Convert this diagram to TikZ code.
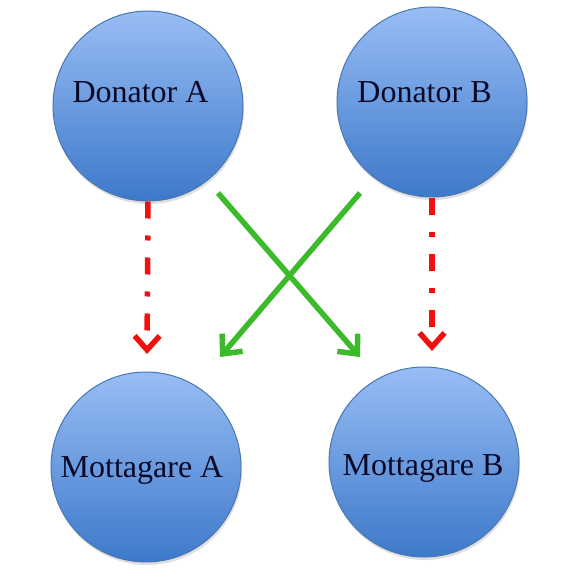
\documentclass[tikz,border=0pt]{standalone}
\usepackage{fontspec}
\setmainfont{Liberation Serif}
\usetikzlibrary{shapes,arrows.meta,shadows}
\definecolor{balltop}{HTML}{98BDF5}
\definecolor{ballbot}{HTML}{3D79CA}
\definecolor{ballrim}{HTML}{4A76B0}
\definecolor{inkblue}{HTML}{0A0A28}
\definecolor{giftred}{HTML}{F01010}
\definecolor{swapgreen}{HTML}{3CBB2A}
\tikzset{
  person/.style  = {circle, minimum size=190pt, inner sep=0pt,
                    draw=ballrim, line width=1pt,
                    top color=balltop, bottom color=ballbot,
                    drop shadow={shadow xshift=1pt, shadow yshift=-3pt,
                                 opacity=0.25, fill=gray}},
  persontag/.style = {anchor=base, text=inkblue, font=\fontsize{32}{32}\selectfont},
  gift/.style    = {draw=giftred, line width=5.5pt,
                    dash pattern=on 17pt off 17pt on 5pt off 17pt,
                    -{Straight Barb[length=14pt,width=25pt,line width=5.5pt]}},
  swap/.style    = {draw=swapgreen, line width=5.5pt,
                    -{Straight Barb[length=15pt,width=27pt,line width=5.5pt]}}
}

\begin{document}
\begin{tikzpicture}[x=1pt,y=-1pt]
	\useasboundingbox (0,0) rectangle (574,577);
	\node[person] (DA) at (148,106) {};
	\node[person] (DB) at (432,102) {};
	\node[person] (MA) at (146,467) {};
	\node[person] (MB) at (424,462) {};
	\node[persontag] (DAt) at (140.5,103) {Donator A};
	\node[persontag] (DBt) at (424.5,103) {Donator B};
	\node[persontag] (MAt) at (142,477) {Mottagare A};
	\node[persontag] (MBt) at (423,475) {Mottagare B};
	% arrow ends
	\coordinate (rA) at (147,354);
	\coordinate (rB) at (432,351);
	\coordinate (gA0) at (218,193);
	\coordinate (gA1) at (360,357);
	\coordinate (gB0) at (360,193);
	\coordinate (gB1) at (220,357);
	\draw[gift] (DA.south) -- (rA);
	\draw[gift] (DB.south) -- (rB);
	\draw[swap] (gA0) -- (gA1);
	\draw[swap] (gB0) -- (gB1);
\end{tikzpicture}
\end{document}
